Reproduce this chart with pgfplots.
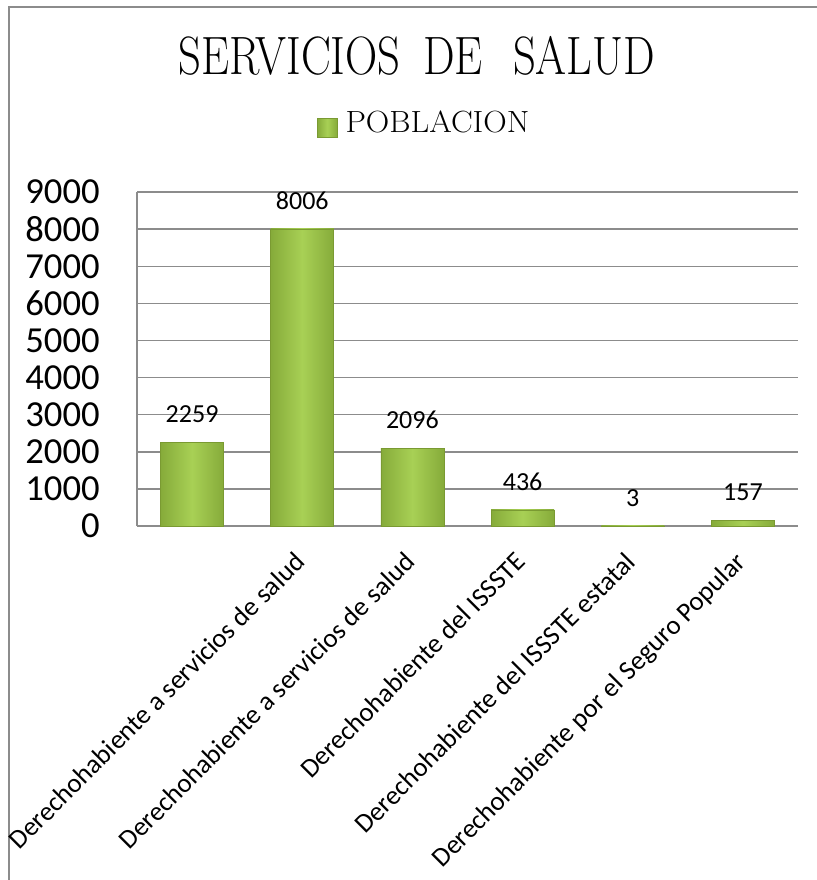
\documentclass[border=0pt]{standalone}
\usepackage{fontspec}
\usepackage{graphicx}
\usepackage{pgfplots}
\pgfplotsset{compat=1.18}
\newfontfamily\calibri{Carlito}
\definecolor{gridc}{HTML}{8C8C8C}
\definecolor{gedge}{HTML}{86AB3A}
\definecolor{gmid}{HTML}{A8D055}
\definecolor{gdraw}{HTML}{7A9A32}
\pgfplotsset{gbar/.style={ybar, draw=gdraw, left color=gedge, right color=gedge, middle color=gmid}}
\begin{document}
\begin{tikzpicture}
\useasboundingbox (0,0) rectangle (612pt,-660pt);
\draw[gridc, line width=1.5pt] (6.75pt,-662pt) -- (6.75pt,-4.9pt) -- (614pt,-4.9pt);
\node[inner sep=0pt] at (312.75pt,-41.6pt) {\fontsize{40.5}{40.5}\selectfont\scalebox{0.827}[1]{SERVICIOS\hspace{20.8pt}DE\hspace{27.3pt}SALUD}};
\begin{axis}[
  at={(102.75pt,-394.5pt)}, anchor=south west,
  scale only axis, width=495.75pt, height=250.5pt,
  xmin=-0.5, xmax=5.5, ymin=0, ymax=9000,
  ybar, bar width=47.25pt, bar shift=0pt,
  ytick={0,1000,...,9000},
  xtick={1,2,3,4,5},
  xticklabels={Derechohabiente a servicios de salud, Derechohabiente a servicios de salud, Derechohabiente del ISSSTE, Derechohabiente del ISSSTE estatal, Derechohabiente por el Seguro Popular},
  axis x line*=bottom, axis y line*=left,
  axis line style={-, gridc, line width=1.1pt},
  ymajorgrids, grid style={gridc, line width=1.1pt},
  major tick length=0pt,
  scaled y ticks=false,
  /pgf/number format/1000 sep={},
  /pgf/number format/assume math mode=true,
  yticklabel style={font=\calibri\fontsize{27.5}{27.5}\selectfont, anchor=east, inner sep=0pt, xshift=-27.75pt},
  xticklabel style={xshift=-6.75pt, yshift=-18pt, rotate=45, anchor=north east, inner sep=0pt, font=\calibri\fontsize{20.2}{20.2}\selectfont},
  nodes near coords,
  every node near coord/.append style={font=\calibri\fontsize{19.5}{19.5}\selectfont, inner sep=0pt, anchor=south, yshift=14.25pt, text=black},
  legend style={at={(axis description cs:0.2723,1.202)}, anchor=west, draw=none, fill=none, inner sep=0pt, outer sep=0pt, column sep=6pt, nodes={inner sep=0pt}, font=\fontsize{23}{23}\selectfont},
  legend image code/.code={\draw[#1] (0pt,-10.9pt) rectangle (15pt,3.4pt);},
]
\addplot[gbar, bar shift=0pt] coordinates {(0,2259)};
\addlegendentry{\scalebox{1.06}[1]{POBLACION}}
\addplot[gbar, bar shift=0pt, forget plot] coordinates {(1,8006)};
\addplot[gbar, bar shift=0pt, forget plot] coordinates {(2,2096)};
\addplot[gbar, bar shift=0pt, forget plot] coordinates {(3,436)};
\addplot[gbar, bar shift=0pt, forget plot] coordinates {(4,3)};
\addplot[gbar, bar shift=0pt, forget plot] coordinates {(5,157)};
\end{axis}
\end{tikzpicture}
\end{document}
